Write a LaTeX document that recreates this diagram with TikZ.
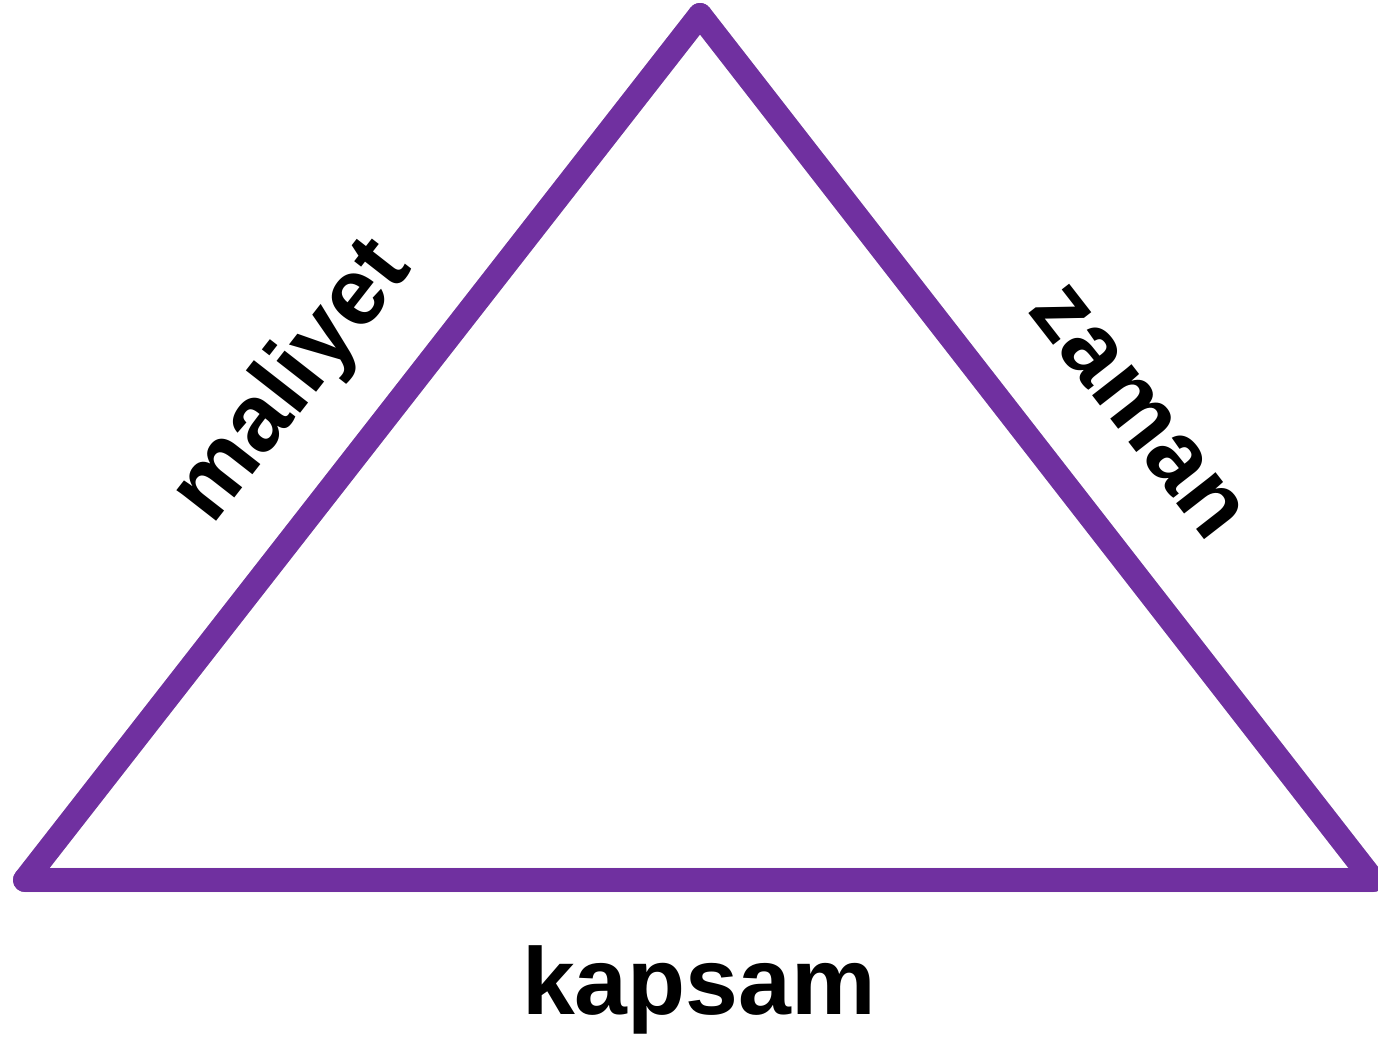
\documentclass[tikz,border=0pt]{standalone}
\usepackage{fontspec}
\setmainfont{Liberation Sans}
\usepackage{tikz}
\usetikzlibrary{positioning,calc}
\definecolor{tri}{HTML}{7030A0}

\begin{document}
\begin{tikzpicture}[
  x=0.5pt, y=-0.5pt,
  side/.style={draw=tri, line width=12pt, line join=round, line cap=round},
  shade/.style={draw=black, opacity=0.18, line width=12pt, line join=round, line cap=round},
  lbl/.style={font=\fontsize{47.5pt}{56pt}\selectfont\bfseries, text=black, inner sep=0pt, text depth=0pt}
]
\useasboundingbox (0,0) rectangle (1378,1037);

% corners
\coordinate (top) at (700,15);
\coordinate (bl) at (25,880);
\coordinate (br) at (1373,880);

% shadow
\draw[shade, xshift=1.5pt, yshift=-2pt] (top) -- (br) -- (bl) -- cycle;

% triangle with labels
\draw[side] (bl) -- node[lbl, sloped, pos=0.508, above=29pt] (cost) {maliyet} (top);
\draw[side] (top) -- node[lbl, sloped, pos=0.531, above=32pt] (time) {zaman} (br);
\draw[side] (br) -- node[lbl, midway, below=27pt] (scope) {kapsam} (bl) -- cycle;
\end{tikzpicture}
\end{document}
